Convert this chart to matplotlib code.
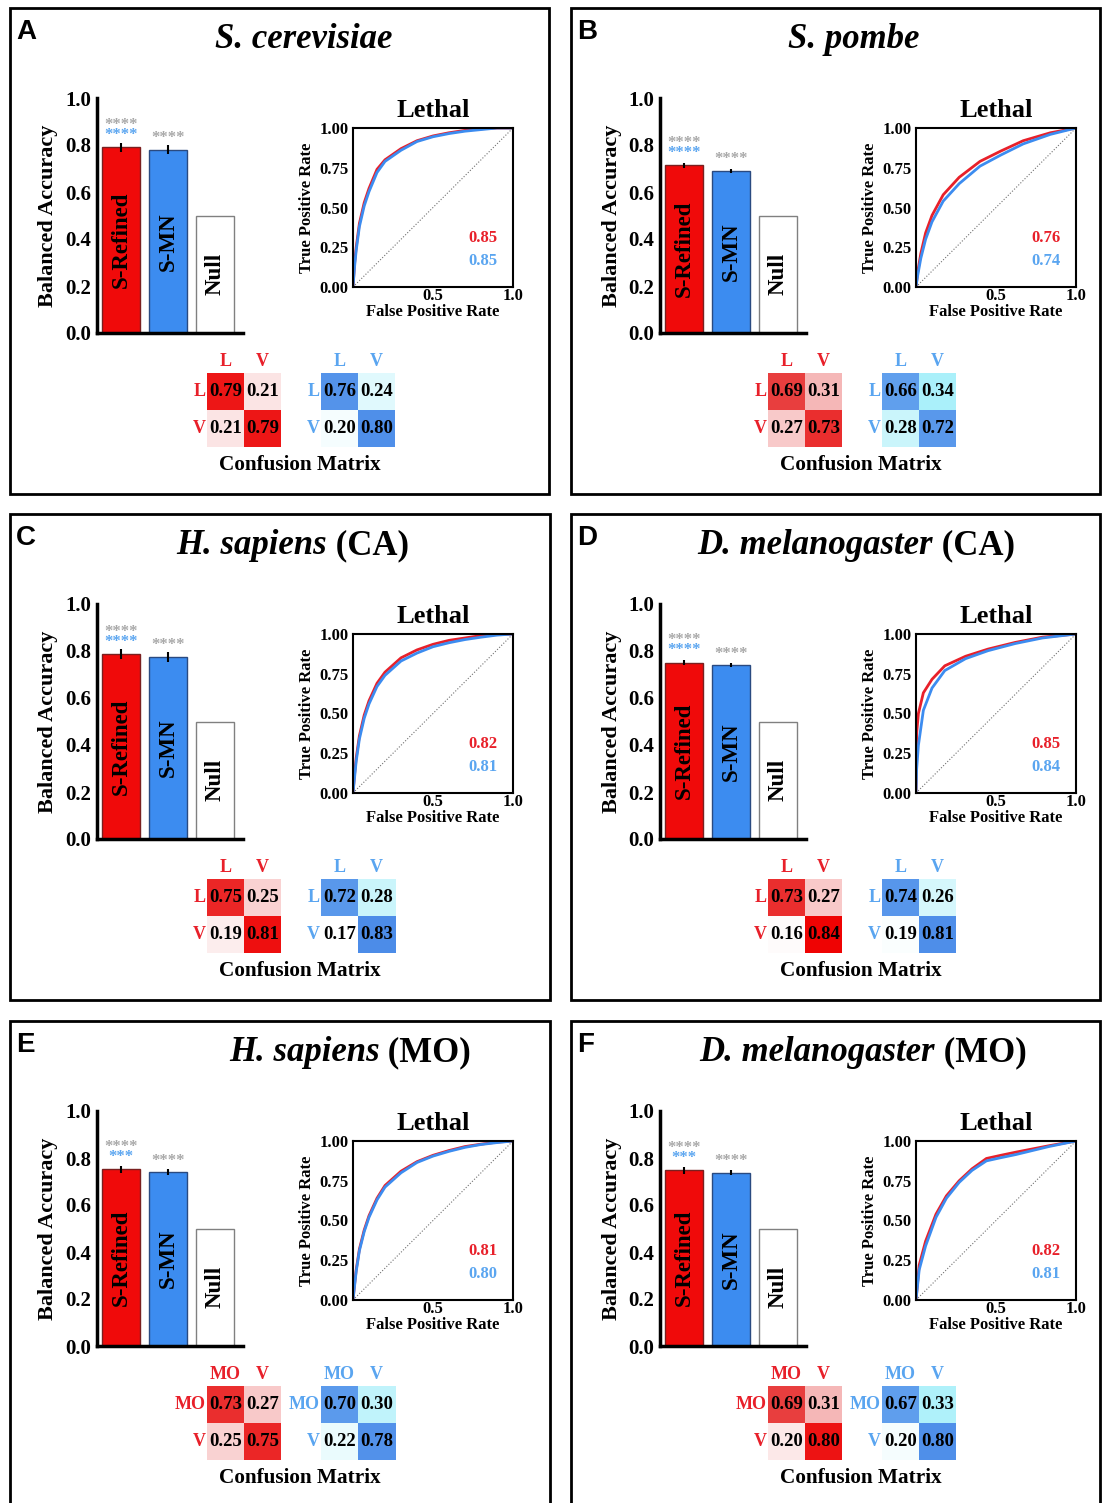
import numpy as np
import matplotlib
matplotlib.use("Agg")
import matplotlib.pyplot as plt
from matplotlib.colors import LinearSegmentedColormap, Normalize
from matplotlib.patches import Rectangle

W, H = 1104, 1503

plt.rcParams['font.family'] = ['Liberation Serif', 'DejaVu Serif']
plt.rcParams['font.weight'] = 'bold'
plt.rcParams['axes.labelweight'] = 'bold'

# ---- data ----
panel_letters = ['A', 'B', 'C', 'D', 'E', 'F']
species = ['S. cerevisiae', 'S. pombe', 'H. sapiens', 'D. melanogaster', 'H. sapiens', 'D. melanogaster']
dataset = ['', '', ' (CA)', ' (CA)', ' (MO)', ' (MO)']
class_labels = [['L', 'V'], ['L', 'V'], ['L', 'V'], ['L', 'V'], ['MO', 'V'], ['MO', 'V']]
models = ['S-Refined', 'S-MN', 'Null']

acc_refined = [0.79, 0.714, 0.787, 0.75, 0.752, 0.747]
acc_smn = [0.78, 0.69, 0.775, 0.74, 0.74, 0.738]
acc_null = [0.50, 0.50, 0.50, 0.50, 0.50, 0.50]
err_refined = [0.02, 0.01, 0.02, 0.01, 0.015, 0.015]
err_smn = [0.02, 0.01, 0.02, 0.01, 0.012, 0.012]
stars_refined_null = ['****', '****', '****', '****', '****', '****']
stars_refined_smn = ['****', '****', '****', '****', '***', '***']
stars_smn_null = ['****', '****', '****', '****', '****', '****']

auc_refined = [0.85, 0.76, 0.82, 0.85, 0.81, 0.82]
auc_smn = [0.85, 0.74, 0.81, 0.84, 0.80, 0.81]

roc_fpr = [
    [0, 0.01, 0.02, 0.04, 0.07, 0.10, 0.15, 0.20, 0.30, 0.40, 0.50, 0.60, 0.70, 0.80, 0.90, 1.0],
    [0, 0.01, 0.03, 0.06, 0.10, 0.17, 0.27, 0.40, 0.53, 0.67, 0.84, 1.0],
    [0, 0.01, 0.02, 0.04, 0.07, 0.10, 0.15, 0.20, 0.30, 0.40, 0.50, 0.60, 0.70, 0.80, 0.90, 1.0],
    [0, 0.004, 0.015, 0.046, 0.10, 0.18, 0.31, 0.45, 0.62, 0.79, 1.0],
    [0, 0.01, 0.02, 0.04, 0.07, 0.10, 0.15, 0.20, 0.30, 0.40, 0.50, 0.60, 0.70, 0.80, 0.90, 1.0],
    [0, 0.02, 0.06, 0.125, 0.19, 0.27, 0.35, 0.44, 0.53, 0.625, 0.83, 1.0],
]
roc_tpr_refined = [
    [0, 0.15, 0.25, 0.40, 0.53, 0.62, 0.74, 0.80, 0.87, 0.92, 0.95, 0.97, 0.985, 0.995, 1.0, 1.0],
    [0, 0.09, 0.21, 0.34, 0.45, 0.58, 0.69, 0.79, 0.855, 0.92, 0.97, 1.0],
    [0, 0.12, 0.22, 0.36, 0.49, 0.58, 0.69, 0.76, 0.85, 0.90, 0.935, 0.96, 0.975, 0.99, 0.997, 1.0],
    [0, 0.375, 0.50, 0.63, 0.715, 0.80, 0.86, 0.905, 0.947, 0.98, 1.0],
    [0, 0.10, 0.19, 0.32, 0.44, 0.53, 0.64, 0.72, 0.81, 0.87, 0.91, 0.94, 0.965, 0.98, 0.993, 1.0],
    [0, 0.22, 0.37, 0.54, 0.655, 0.75, 0.825, 0.89, 0.91, 0.93, 0.97, 1.0],
]
roc_tpr_smn = [
    [0, 0.13, 0.23, 0.38, 0.51, 0.60, 0.72, 0.79, 0.86, 0.915, 0.945, 0.965, 0.98, 0.99, 1.0, 1.0],
    [0, 0.07, 0.18, 0.30, 0.41, 0.54, 0.65, 0.76, 0.83, 0.90, 0.96, 1.0],
    [0, 0.10, 0.20, 0.34, 0.47, 0.56, 0.67, 0.74, 0.83, 0.88, 0.92, 0.945, 0.965, 0.98, 0.993, 1.0],
    [0, 0.15, 0.30, 0.52, 0.66, 0.77, 0.845, 0.895, 0.94, 0.975, 1.0],
    [0, 0.09, 0.18, 0.31, 0.43, 0.52, 0.63, 0.71, 0.80, 0.865, 0.905, 0.935, 0.96, 0.978, 0.99, 1.0],
    [0, 0.19, 0.34, 0.52, 0.64, 0.74, 0.815, 0.875, 0.895, 0.915, 0.965, 1.0],
]

cm_refined = [
    [[0.79, 0.21], [0.21, 0.79]],
    [[0.69, 0.31], [0.27, 0.73]],
    [[0.75, 0.25], [0.19, 0.81]],
    [[0.73, 0.27], [0.16, 0.84]],
    [[0.73, 0.27], [0.25, 0.75]],
    [[0.69, 0.31], [0.20, 0.80]],
]
cm_smn = [
    [[0.76, 0.24], [0.20, 0.80]],
    [[0.66, 0.34], [0.28, 0.72]],
    [[0.72, 0.28], [0.17, 0.83]],
    [[0.74, 0.26], [0.19, 0.81]],
    [[0.70, 0.30], [0.22, 0.78]],
    [[0.67, 0.33], [0.20, 0.80]],
]

# ---- layout (pixels) ----
origins = [(10, 8), (571, 8), (10, 514), (571, 514), (10, 1021), (571, 1021)]
box_w = [539, 529, 540, 529, 540, 529]
title_cx = [304, 854, 293, 856, 350, 863]

RED = '#f00a0a'
BLUE = '#3c8cf0'
RED_TXT = '#e8202a'
BLUE_TXT = '#5aa5f0'
GRAY_STAR = '#a8a8a8'

red_cmap = LinearSegmentedColormap.from_list(
    'r', [(0, '#ffffff'), (0.25, '#f5b0b0'), (0.75, '#e84545'), (1.0, '#f00000')])
blue_cmap = LinearSegmentedColormap.from_list(
    'b', [(0, '#ffffff'), (0.24, '#aaf0fa'), (0.6, '#6aa8f0'), (1.0, '#4a8ae8')])
red_norm = Normalize(0.15, 0.85, clip=True)
blue_norm = Normalize(0.18, 0.85, clip=True)


def rect(x0, y0, x1, y1):
    return [x0 / W, 1 - y1 / H, (x1 - x0) / W, (y1 - y0) / H]


fig = plt.figure(figsize=(W / 100, H / 100), dpi=100)
renderer = fig.canvas.get_renderer()


def draw_cm(ax, m, cmap, norm, labels, color):
    ax.imshow(np.array(m), cmap=cmap, norm=norm, extent=(-0.5, 1.5, 1.5, -0.5))
    for i in range(2):
        for j in range(2):
            ax.text(j, i, '%.2f' % m[i][j], ha='center', va='center', fontsize=13.5, color='black')
        ax.text(i, -0.8, labels[i], ha='center', va='center', fontsize=13, color=color)
        ax.text(-0.53, i, labels[i], ha='right', va='center', fontsize=13, color=color)
    ax.set_xlim(-0.5, 1.5)
    ax.set_ylim(1.5, -0.5)
    ax.axis('off')


for k in range(6):
    ox, oy = origins[k]
    dx = 2 if k % 2 else 0

    # panel frame
    fig.add_artist(Rectangle((ox / W, 1 - (oy + 486) / H), box_w[k] / W, 486 / H,
                             transform=fig.transFigure, fill=False, lw=2, ec='black'))
    fig.text((ox + 6) / W, 1 - (oy + 24) / H, panel_letters[k], family='Liberation Sans',
             fontsize=20, weight='bold', va='center', ha='left')

    # title: italic species + upright dataset
    t1 = fig.text(0, 0, species[k], fontsize=25, style='italic', weight='bold', va='baseline')
    t2 = fig.text(0, 0, dataset[k], fontsize=25, weight='bold', va='baseline')
    w1 = t1.get_window_extent(renderer).width
    w2 = t2.get_window_extent(renderer).width if dataset[k] else 0
    x0 = title_cx[k] - (w1 + w2) / 2
    t1.set_position((x0 / W, 1 - (oy + 40) / H))
    t2.set_position(((x0 + w1) / W, 1 - (oy + 40) / H))

    # bar chart
    ax = fig.add_axes(rect(ox + 87 + dx, oy + 90, ox + 233 + dx, oy + 325))
    vals = [acc_refined[k], acc_smn[k], acc_null[k]]
    xs = np.arange(3)
    ax.bar(xs, vals, width=0.8, color=[RED, BLUE, 'white'],
           edgecolor=['#7a2020', '#2a4a80', '#808080'], lw=1)
    ax.errorbar(xs[:2], vals[:2], yerr=[err_refined[k], err_smn[k]], fmt='none',
                ecolor='black', elinewidth=1.5, capsize=0)
    for x, v, name in zip(xs, vals, models):
        ax.text(x, v / 2, name, rotation=90, ha='center', va='center', fontsize=16.5, color='black')
    ax.text(0, vals[0] + 0.078, stars_refined_null[k], ha='center', va='baseline',
            fontsize=12, color=GRAY_STAR)
    ax.text(0, vals[0] + 0.036, stars_refined_smn[k], ha='center', va='baseline',
            fontsize=12, color=BLUE_TXT)
    ax.text(1, vals[1] + 0.032, stars_smn_null[k], ha='center', va='baseline',
            fontsize=12, color=GRAY_STAR)
    ax.set_xlim(-0.51, 2.6)
    ax.set_ylim(0, 1)
    ax.set_xticks([])
    ax.set_yticks(np.arange(0, 1.01, 0.2))
    ax.set_yticklabels(['%.1f' % t for t in np.arange(0, 1.01, 0.2)], fontsize=15)
    ax.tick_params(axis='y', length=0, pad=4)
    for s in ['top', 'right']:
        ax.spines[s].set_visible(False)
    for s in ['left', 'bottom']:
        ax.spines[s].set_linewidth(2.5)
    ax.set_ylabel('Balanced Accuracy', fontsize=16, labelpad=5)

    # ROC curve
    rx = fig.add_axes(rect(ox + 343 + dx, oy + 120, ox + 503 + dx, oy + 279))
    rx.plot([0, 1], [0, 1], ls=':', color='#707070', lw=0.8)
    rx.plot(roc_fpr[k], roc_tpr_refined[k], color=RED_TXT, lw=2)
    rx.plot(roc_fpr[k], roc_tpr_smn[k], color=BLUE, lw=2)
    rx.set_xlim(0, 1)
    rx.set_ylim(0, 1)
    rx.set_xticks([0.5, 1.0])
    rx.set_xticklabels(['0.5', '1.0'], fontsize=12)
    rx.set_yticks([0, 0.25, 0.5, 0.75, 1.0])
    rx.set_yticklabels(['0.00', '0.25', '0.50', '0.75', '1.00'], fontsize=12)
    rx.tick_params(length=0, pad=3)
    rx.tick_params(axis='x', pad=1)
    for s in rx.spines.values():
        s.set_linewidth(1.5)
    rx.set_xlabel('False Positive Rate', fontsize=12, labelpad=0)
    rx.set_ylabel('True Positive Rate', fontsize=12, labelpad=3)
    rx.set_title('Lethal', fontsize=19, weight='bold', pad=8)
    rx.text(0.81, 0.31, '%.2f' % auc_refined[k], transform=rx.transAxes, ha='center',
            va='center', fontsize=12, color=RED_TXT)
    rx.text(0.81, 0.165, '%.2f' % auc_smn[k], transform=rx.transAxes, ha='center',
            va='center', fontsize=12, color=BLUE_TXT)

    # confusion matrices
    cr = fig.add_axes(rect(ox + 197, oy + 365, ox + 271, oy + 439))
    draw_cm(cr, cm_refined[k], red_cmap, red_norm, class_labels[k], RED_TXT)
    cb = fig.add_axes(rect(ox + 311, oy + 365, ox + 385, oy + 439))
    draw_cm(cb, cm_smn[k], blue_cmap, blue_norm, class_labels[k], BLUE_TXT)
    fig.text((ox + 290) / W, 1 - (oy + 462) / H, 'Confusion Matrix', ha='center',
             va='baseline', fontsize=15.3)

fig.savefig('out.png', dpi=100)
